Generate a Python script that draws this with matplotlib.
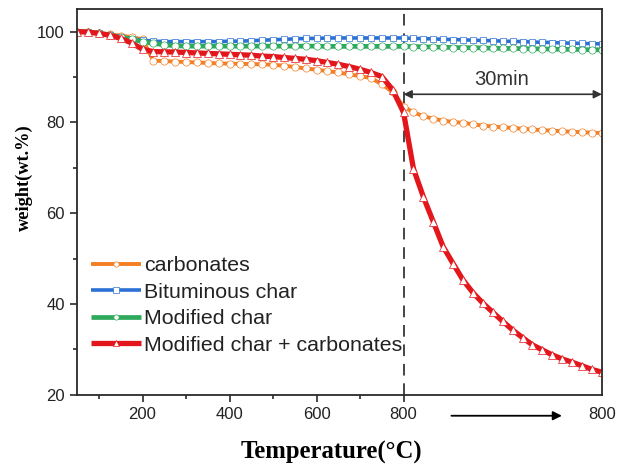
import numpy as np
import matplotlib
matplotlib.use("Agg")
import matplotlib.pyplot as plt
from matplotlib.ticker import FixedLocator

plt.rcParams['font.family'] = ['Liberation Sans', 'DejaVu Sans']

# Heating ramp (deg C) followed by a 30 min isothermal hold at 800 deg C
ramp_temp = list(range(50, 801, 25))
hold_time = [1.5 * (i + 1) for i in range(20)]  # minutes
HOLD_MIN = 30
HOLD_SPAN = 456  # axis units occupied by the isothermal segment

carbonates_ramp = [100, 99.9, 99.7, 99.4, 99.1, 98.8, 98.3, 93.6, 93.5, 93.4, 93.3,
                   93.2, 93.1, 93.0, 92.95, 92.9, 92.85, 92.8, 92.7, 92.5, 92.2,
                   91.9, 91.6, 91.3, 91.0, 90.6, 90.2, 89.8, 88.4, 86.7, 83.5]
carbonates_hold = [82.2, 81.4, 80.8, 80.4, 80.1, 79.9, 79.6, 79.3, 79.1, 78.9,
                   78.8, 78.6, 78.45, 78.3, 78.2, 78.05, 77.95, 77.85, 77.75, 77.65]

bituminous_ramp = [100, 99.9, 99.6, 99.2, 98.8, 98.4, 98.1, 97.9, 97.8, 97.8, 97.8,
                   97.8, 97.8, 97.8, 97.9, 97.9, 98.0, 98.1, 98.2, 98.3, 98.4,
                   98.5, 98.5, 98.6, 98.6, 98.6, 98.6, 98.6, 98.6, 98.6, 98.6]
bituminous_hold = [98.5, 98.45, 98.4, 98.3, 98.25, 98.2, 98.1, 98.05, 98.0, 97.9,
                   97.85, 97.8, 97.7, 97.65, 97.6, 97.5, 97.45, 97.4, 97.35, 97.3]

modified_ramp = [100, 99.9, 99.6, 99.2, 98.8, 98.3, 97.8, 97.4, 97.1, 96.9, 96.8,
                 96.8, 96.8, 96.8, 96.8, 96.8, 96.8, 96.8, 96.8, 96.8, 96.8,
                 96.8, 96.8, 96.75, 96.75, 96.75, 96.75, 96.75, 96.75, 96.75, 96.75]
modified_hold = [96.7, 96.65, 96.6, 96.55, 96.5, 96.45, 96.45, 96.4, 96.35, 96.3,
                 96.3, 96.25, 96.2, 96.2, 96.15, 96.1, 96.1, 96.05, 96.0, 96.0]

mixed_ramp = [100, 99.9, 99.6, 99.2, 98.5, 97.5, 96.1, 95.6, 95.55, 95.5, 95.4,
              95.3, 95.2, 95.1, 95.0, 94.9, 94.8, 94.6, 94.5, 94.3, 94.1,
              93.9, 93.6, 93.2, 92.8, 92.3, 91.7, 91.0, 90.1, 87.2, 82.2]
mixed_hold = [69.8, 63.6, 58.1, 52.6, 48.9, 45.3, 42.5, 40.2, 38.2, 36.2,
              34.3, 32.6, 31.0, 29.9, 28.8, 27.9, 27.2, 26.4, 25.6, 25.0]

labels = ["carbonates", "Bituminous char", "Modified char", "Modified char + carbonates"]
colors = ["#F47F24", "#2B70D4", "#2FAA5C", "#E3161C"]
markers = ["o", "s", "o", "^"]
widths = [2.8, 2.6, 3.4, 3.8]
msizes = [5.2, 4.6, 5.2, 5.4]

scale = HOLD_SPAN / HOLD_MIN
x = np.concatenate([np.array(ramp_temp, float), 800 + np.array(hold_time) * scale])
x_end = 800 + HOLD_MIN * scale

series = [
    carbonates_ramp + carbonates_hold,
    bituminous_ramp + bituminous_hold,
    modified_ramp + modified_hold,
    mixed_ramp + mixed_hold,
]

fig = plt.figure(figsize=(6.18, 4.69), dpi=100)
ax = fig.add_axes([0.125, 0.158, 0.849, 0.823])

handles = []
for y, lab, c, m, lw, ms in zip(series, labels, colors, markers, widths, msizes):
    h, = ax.plot(x, y, color=c, lw=lw, marker=m, ms=ms, mfc="white", mec=c,
                 mew=0.5, label=lab, solid_capstyle="butt")
    handles.append(h)

ax.set_xlim(50, x_end)
ax.set_ylim(20, 105)

dark = "#2a2a2a"
ax.axvline(800, color="#444444", lw=1.4, dashes=(6, 4), zorder=1)

ax.xaxis.set_major_locator(FixedLocator([200, 400, 600, 800, x_end]))
ax.xaxis.set_minor_locator(FixedLocator([100, 300, 500, 700]))
ax.set_xticklabels(["200", "400", "600", "800", "800"])
ax.yaxis.set_major_locator(FixedLocator([20, 40, 60, 80, 100]))
ax.yaxis.set_minor_locator(FixedLocator([30, 50, 70, 90]))

ax.tick_params(which="both", direction="out", color=dark, width=1.2,
               labelsize=12, labelcolor="#222222", pad=4)
ax.tick_params(which="major", length=5)
ax.tick_params(which="minor", length=3)
ax.xaxis.get_major_ticks()[-1].tick1line.set_visible(False)
ax.tick_params(top=False, right=False)

for s in ax.spines.values():
    s.set_color(dark)
    s.set_linewidth(1.3)

ax.set_xlabel("Temperature(°C)", fontsize=17.8, fontweight="bold",
              family=["Liberation Serif", "DejaVu Serif"])
ax.xaxis.set_label_coords(0.485, -0.118)
ax.set_ylabel("weight(wt.%)", fontsize=13.2, fontweight="bold",
              family=["Liberation Serif", "DejaVu Serif"])
ax.yaxis.set_label_coords(-0.085, 0.562)

# 30 min isothermal span
ax.annotate("", xy=(800, 86.2), xytext=(x_end, 86.2),
            arrowprops=dict(arrowstyle="<|-|>", color="#333333", lw=1.2,
                            mutation_scale=12, shrinkA=0, shrinkB=0))
ax.text((800 + x_end) / 2 - 2, 89.5, "30min", fontsize=14.5, color="#333333",
        ha="center", va="center")

# time-direction arrow beneath the hold segment
ax.annotate("", xy=(1164, -0.054), xytext=(910, -0.054),
            xycoords=("data", "axes fraction"), textcoords=("data", "axes fraction"),
            arrowprops=dict(arrowstyle="-|>", color="black", lw=1.3,
                            mutation_scale=13, shrinkA=0, shrinkB=0),
            annotation_clip=False)

leg = ax.legend(handles=handles, loc="center left", bbox_to_anchor=(0.148, 0.349),
                bbox_transform=fig.transFigure, frameon=False, fontsize=15.4,
                handlelength=2.3, handletextpad=0.15, labelspacing=0.35,
                borderpad=0, borderaxespad=0, numpoints=1)
for t in leg.get_texts():
    t.set_color("#222222")
for lh in leg.get_lines():
    lh.set_markersize(3.8)

fig.savefig("out.png", dpi=100)
